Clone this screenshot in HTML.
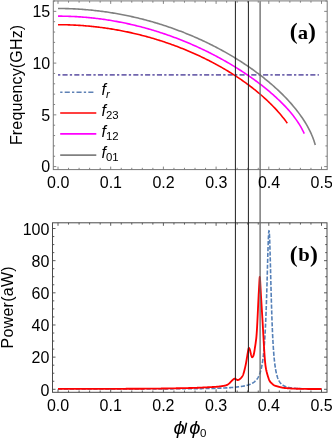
<!DOCTYPE html>
<html><head><meta charset="utf-8"><title>plot</title>
<style>html,body{margin:0;padding:0;background:#fff;width:332px;height:439px;overflow:hidden}</style>
</head><body>
<svg width="332" height="439" viewBox="0 0 332 439" style="position:absolute;left:0;top:0;will-change:transform">
<path d="M58.00,74.9 H318.9" stroke="#7166ae" stroke-width="1.7" stroke-dasharray="2.3 2.2 5.1 2.2" fill="none"/>
<path d="M58.00,8.50 L59.29,8.50 L60.59,8.51 L61.88,8.52 L63.17,8.54 L64.46,8.56 L65.76,8.59 L67.05,8.62 L68.34,8.66 L69.64,8.70 L70.93,8.75 L72.22,8.80 L73.51,8.86 L74.81,8.92 L76.10,8.99 L77.39,9.06 L78.69,9.13 L79.98,9.22 L81.27,9.30 L82.56,9.39 L83.86,9.49 L85.15,9.59 L86.44,9.70 L87.74,9.81 L89.03,9.93 L90.32,10.05 L91.61,10.17 L92.91,10.31 L94.20,10.44 L95.49,10.58 L96.79,10.73 L98.08,10.88 L99.37,11.04 L100.66,11.20 L101.96,11.37 L103.25,11.54 L104.54,11.71 L105.84,11.90 L107.13,12.08 L108.42,12.27 L109.71,12.47 L111.01,12.67 L112.30,12.88 L113.59,13.09 L114.89,13.31 L116.18,13.53 L117.47,13.76 L118.76,13.99 L120.06,14.23 L121.35,14.47 L122.64,14.72 L123.94,14.97 L125.23,15.23 L126.52,15.49 L127.82,15.76 L129.11,16.03 L130.40,16.31 L131.69,16.60 L132.99,16.88 L134.28,17.18 L135.57,17.48 L136.87,17.78 L138.16,18.09 L139.45,18.41 L140.74,18.73 L142.04,19.06 L143.33,19.39 L144.62,19.72 L145.92,20.06 L147.21,20.41 L148.50,20.76 L149.79,21.12 L151.09,21.49 L152.38,21.85 L153.67,22.23 L154.97,22.61 L156.26,22.99 L157.55,23.38 L158.84,23.78 L160.14,24.18 L161.43,24.59 L162.72,25.00 L164.02,25.42 L165.31,25.84 L166.60,26.27 L167.89,26.71 L169.19,27.15 L170.48,27.59 L171.77,28.04 L173.07,28.50 L174.36,28.97 L175.65,29.44 L176.94,29.91 L178.24,30.39 L179.53,30.88 L180.82,31.37 L182.12,31.87 L183.41,32.37 L184.70,32.88 L185.99,33.40 L187.29,33.92 L188.58,34.45 L189.87,34.99 L191.17,35.53 L192.46,36.08 L193.75,36.63 L195.04,37.19 L196.34,37.75 L197.63,38.33 L198.92,38.91 L200.22,39.49 L201.51,40.08 L202.80,40.68 L204.09,41.29 L205.39,41.90 L206.68,42.52 L207.97,43.14 L209.27,43.78 L210.56,44.41 L211.85,45.06 L213.14,45.71 L214.44,46.37 L215.73,47.04 L217.02,47.71 L218.32,48.40 L219.61,49.09 L220.90,49.78 L222.19,50.49 L223.49,51.20 L224.78,51.92 L226.07,52.65 L227.37,53.38 L228.66,54.12 L229.95,54.88 L231.24,55.64 L232.54,56.40 L233.83,57.18 L235.12,57.96 L236.42,58.76 L237.71,59.56 L239.00,60.37 L240.29,61.19 L241.59,62.02 L242.88,62.86 L244.17,63.71 L245.47,64.57 L246.76,65.44 L248.05,66.32 L249.34,67.21 L250.64,68.10 L251.93,69.01 L253.22,69.94 L254.52,70.87 L255.81,71.81 L257.10,72.77 L258.40,73.73 L259.69,74.71 L260.98,75.71 L262.27,76.71 L263.57,77.73 L264.86,78.76 L266.15,79.81 L267.45,80.87 L268.74,81.95 L270.03,83.04 L271.32,84.14 L272.62,85.27 L273.91,86.41 L275.20,87.56 L276.50,88.74 L277.79,89.94 L279.08,91.15 L280.37,92.39 L281.67,93.65 L282.96,94.93 L284.25,96.23 L285.55,97.56 L286.84,98.91 L288.13,100.30 L289.42,101.71 L290.72,103.15 L292.01,104.63 L293.30,106.15 L294.60,107.70 L295.89,109.29 L297.18,110.93 L298.47,112.62 L299.77,114.36 L301.06,116.17 L302.35,118.04 L303.65,119.99 L304.94,122.02 L306.23,124.16 L307.52,126.41 L308.82,128.81 L310.11,131.39 L311.40,134.20 L312.70,137.31 L313.99,140.84 L315.28,145.03" stroke="#808080" stroke-width="1.6" fill="none" stroke-linejoin="round"/>
<path d="M58.00,16.14 L59.24,16.14 L60.48,16.15 L61.71,16.16 L62.95,16.18 L64.19,16.20 L65.43,16.23 L66.66,16.26 L67.90,16.29 L69.14,16.33 L70.38,16.38 L71.61,16.43 L72.85,16.48 L74.09,16.54 L75.33,16.61 L76.56,16.67 L77.80,16.75 L79.04,16.83 L80.28,16.91 L81.51,17.00 L82.75,17.09 L83.99,17.19 L85.23,17.29 L86.46,17.40 L87.70,17.51 L88.94,17.62 L90.18,17.74 L91.41,17.87 L92.65,18.00 L93.89,18.14 L95.13,18.28 L96.36,18.42 L97.60,18.57 L98.84,18.72 L100.08,18.88 L101.31,19.05 L102.55,19.22 L103.79,19.39 L105.03,19.57 L106.26,19.75 L107.50,19.94 L108.74,20.13 L109.98,20.33 L111.21,20.53 L112.45,20.74 L113.69,20.95 L114.93,21.17 L116.16,21.39 L117.40,21.62 L118.64,21.85 L119.88,22.09 L121.11,22.33 L122.35,22.57 L123.59,22.82 L124.83,23.08 L126.06,23.34 L127.30,23.61 L128.54,23.88 L129.78,24.15 L131.01,24.43 L132.25,24.72 L133.49,25.01 L134.73,25.30 L135.96,25.60 L137.20,25.91 L138.44,26.22 L139.68,26.53 L140.91,26.85 L142.15,27.18 L143.39,27.50 L144.63,27.84 L145.86,28.18 L147.10,28.52 L148.34,28.87 L149.58,29.23 L150.81,29.59 L152.05,29.95 L153.29,30.32 L154.53,30.70 L155.76,31.08 L157.00,31.46 L158.24,31.85 L159.48,32.25 L160.71,32.65 L161.95,33.05 L163.19,33.46 L164.43,33.88 L165.66,34.30 L166.90,34.73 L168.14,35.16 L169.38,35.59 L170.61,36.04 L171.85,36.48 L173.09,36.94 L174.33,37.39 L175.56,37.86 L176.80,38.33 L178.04,38.80 L179.28,39.28 L180.51,39.76 L181.75,40.25 L182.99,40.75 L184.23,41.25 L185.46,41.76 L186.70,42.27 L187.94,42.78 L189.18,43.31 L190.41,43.84 L191.65,44.37 L192.89,44.91 L194.13,45.45 L195.37,46.01 L196.60,46.56 L197.84,47.12 L199.08,47.69 L200.32,48.27 L201.55,48.85 L202.79,49.43 L204.03,50.02 L205.27,50.62 L206.50,51.23 L207.74,51.84 L208.98,52.45 L210.22,53.07 L211.45,53.70 L212.69,54.34 L213.93,54.98 L215.17,55.62 L216.40,56.28 L217.64,56.94 L218.88,57.60 L220.12,58.28 L221.35,58.95 L222.59,59.64 L223.83,60.33 L225.07,61.03 L226.30,61.74 L227.54,62.45 L228.78,63.17 L230.02,63.90 L231.25,64.64 L232.49,65.38 L233.73,66.13 L234.97,66.88 L236.20,67.65 L237.44,68.42 L238.68,69.20 L239.92,69.99 L241.15,70.78 L242.39,71.59 L243.63,72.40 L244.87,73.22 L246.10,74.05 L247.34,74.89 L248.58,75.73 L249.82,76.59 L251.05,77.46 L252.29,78.33 L253.53,79.21 L254.77,80.11 L256.00,81.01 L257.24,81.93 L258.48,82.86 L259.72,83.79 L260.95,84.74 L262.19,85.70 L263.43,86.67 L264.67,87.66 L265.90,88.65 L267.14,89.66 L268.38,90.69 L269.62,91.73 L270.85,92.78 L272.09,93.85 L273.33,94.93 L274.57,96.04 L275.80,97.16 L277.04,98.30 L278.28,99.46 L279.52,100.64 L280.75,101.84 L281.99,103.07 L283.23,104.32 L284.47,105.60 L285.70,106.91 L286.94,108.25 L288.18,109.63 L289.42,111.04 L290.65,112.50 L291.89,114.01 L293.13,115.56 L294.37,117.18 L295.60,118.86 L296.84,120.61 L298.08,122.45 L299.32,124.39 L300.55,126.45 L301.79,128.65 L303.03,131.01 L304.27,133.58" stroke="#ff00ff" stroke-width="1.6" fill="none" stroke-linejoin="round"/>
<path d="M58.00,24.69 L59.15,24.69 L60.30,24.70 L61.46,24.71 L62.61,24.72 L63.76,24.74 L64.91,24.76 L66.07,24.79 L67.22,24.82 L68.37,24.85 L69.52,24.89 L70.67,24.93 L71.83,24.98 L72.98,25.03 L74.13,25.08 L75.28,25.14 L76.44,25.20 L77.59,25.27 L78.74,25.34 L79.89,25.41 L81.04,25.49 L82.20,25.57 L83.35,25.65 L84.50,25.74 L85.65,25.84 L86.81,25.93 L87.96,26.04 L89.11,26.14 L90.26,26.25 L91.42,26.36 L92.57,26.48 L93.72,26.60 L94.87,26.73 L96.02,26.86 L97.18,26.99 L98.33,27.13 L99.48,27.27 L100.63,27.42 L101.79,27.57 L102.94,27.72 L104.09,27.88 L105.24,28.04 L106.39,28.21 L107.55,28.38 L108.70,28.55 L109.85,28.73 L111.00,28.91 L112.16,29.10 L113.31,29.29 L114.46,29.48 L115.61,29.68 L116.76,29.89 L117.92,30.09 L119.07,30.30 L120.22,30.52 L121.37,30.74 L122.53,30.96 L123.68,31.19 L124.83,31.42 L125.98,31.66 L127.13,31.90 L128.29,32.14 L129.44,32.39 L130.59,32.64 L131.74,32.90 L132.90,33.16 L134.05,33.43 L135.20,33.70 L136.35,33.97 L137.51,34.25 L138.66,34.53 L139.81,34.82 L140.96,35.11 L142.11,35.41 L143.27,35.71 L144.42,36.01 L145.57,36.32 L146.72,36.63 L147.88,36.95 L149.03,37.27 L150.18,37.60 L151.33,37.93 L152.48,38.26 L153.64,38.60 L154.79,38.95 L155.94,39.30 L157.09,39.65 L158.25,40.01 L159.40,40.37 L160.55,40.74 L161.70,41.11 L162.85,41.48 L164.01,41.86 L165.16,42.25 L166.31,42.64 L167.46,43.03 L168.62,43.43 L169.77,43.84 L170.92,44.24 L172.07,44.66 L173.22,45.08 L174.38,45.50 L175.53,45.93 L176.68,46.36 L177.83,46.80 L178.99,47.24 L180.14,47.69 L181.29,48.14 L182.44,48.60 L183.60,49.06 L184.75,49.53 L185.90,50.00 L187.05,50.48 L188.20,50.96 L189.36,51.45 L190.51,51.94 L191.66,52.44 L192.81,52.94 L193.97,53.45 L195.12,53.97 L196.27,54.49 L197.42,55.01 L198.57,55.54 L199.73,56.08 L200.88,56.62 L202.03,57.17 L203.18,57.73 L204.34,58.29 L205.49,58.85 L206.64,59.42 L207.79,60.00 L208.94,60.58 L210.10,61.17 L211.25,61.77 L212.40,62.37 L213.55,62.98 L214.71,63.59 L215.86,64.21 L217.01,64.84 L218.16,65.48 L219.31,66.12 L220.47,66.76 L221.62,67.42 L222.77,68.08 L223.92,68.75 L225.08,69.42 L226.23,70.11 L227.38,70.80 L228.53,71.49 L229.69,72.20 L230.84,72.91 L231.99,73.63 L233.14,74.36 L234.29,75.10 L235.45,75.84 L236.60,76.60 L237.75,77.36 L238.90,78.13 L240.06,78.91 L241.21,79.70 L242.36,80.50 L243.51,81.31 L244.66,82.12 L245.82,82.95 L246.97,83.79 L248.12,84.64 L249.27,85.50 L250.43,86.37 L251.58,87.25 L252.73,88.14 L253.88,89.05 L255.03,89.96 L256.19,90.89 L257.34,91.84 L258.49,92.79 L259.64,93.76 L260.80,94.75 L261.95,95.75 L263.10,96.76 L264.25,97.79 L265.40,98.84 L266.56,99.90 L267.71,100.98 L268.86,102.09 L270.01,103.21 L271.17,104.35 L272.32,105.51 L273.47,106.69 L274.62,107.90 L275.78,109.14 L276.93,110.39 L278.08,111.68 L279.23,113.00 L280.38,114.34 L281.54,115.72 L282.69,117.14 L283.84,118.59 L284.99,120.08 L286.15,121.62 L287.30,123.20" stroke="#ff0000" stroke-width="1.6" fill="none" stroke-linejoin="round"/>
<path d="M58.00,389.01 L58.22,389.01 L58.44,389.01 L58.66,389.01 L58.88,389.01 L59.10,389.01 L59.32,389.01 L59.54,389.01 L59.76,389.01 L59.98,389.01 L60.20,389.01 L60.42,389.01 L60.64,389.01 L60.86,389.01 L61.08,389.01 L61.30,389.01 L61.52,389.01 L61.74,389.01 L61.96,389.01 L62.18,389.01 L62.40,389.01 L62.62,389.01 L62.83,389.01 L63.05,389.01 L63.27,389.01 L63.49,389.01 L63.71,389.01 L63.93,389.01 L64.15,389.01 L64.37,389.01 L64.59,389.01 L64.81,389.01 L65.03,389.01 L65.25,389.01 L65.47,389.01 L65.69,389.01 L65.91,389.01 L66.13,389.01 L66.35,389.01 L66.57,389.01 L66.79,389.01 L67.01,389.01 L67.23,389.01 L67.45,389.01 L67.67,389.01 L67.89,389.01 L68.11,389.01 L68.33,389.00 L68.55,389.00 L68.77,389.00 L68.99,389.00 L69.21,389.00 L69.43,389.00 L69.65,389.00 L69.87,389.00 L70.09,389.00 L70.31,389.00 L70.53,389.00 L70.75,389.00 L70.97,389.00 L71.19,389.00 L71.41,389.00 L71.63,389.00 L71.85,389.00 L72.07,389.00 L72.28,389.00 L72.50,389.00 L72.72,389.00 L72.94,389.00 L73.16,389.00 L73.38,389.00 L73.60,389.00 L73.82,389.00 L74.04,389.00 L74.26,389.00 L74.48,389.00 L74.70,389.00 L74.92,389.00 L75.14,389.00 L75.36,389.00 L75.58,389.00 L75.80,389.00 L76.02,389.00 L76.24,389.00 L76.46,389.00 L76.68,389.00 L76.90,389.00 L77.12,389.00 L77.34,389.00 L77.56,389.00 L77.78,389.00 L78.00,389.00 L78.22,389.00 L78.44,389.00 L78.66,389.00 L78.88,389.00 L79.10,389.00 L79.32,389.00 L79.54,389.00 L79.76,389.00 L79.98,389.00 L80.20,389.00 L80.42,389.00 L80.64,389.00 L80.86,389.00 L81.08,389.00 L81.30,389.00 L81.52,389.00 L81.73,389.00 L81.95,389.00 L82.17,389.00 L82.39,389.00 L82.61,389.00 L82.83,389.00 L83.05,389.00 L83.27,389.00 L83.49,389.00 L83.71,389.00 L83.93,389.00 L84.15,389.00 L84.37,389.00 L84.59,389.00 L84.81,388.99 L85.03,388.99 L85.25,388.99 L85.47,388.99 L85.69,388.99 L85.91,388.99 L86.13,388.99 L86.35,388.99 L86.57,388.99 L86.79,388.99 L87.01,388.99 L87.23,388.99 L87.45,388.99 L87.67,388.99 L87.89,388.99 L88.11,388.99 L88.33,388.99 L88.55,388.99 L88.77,388.99 L88.99,388.99 L89.21,388.99 L89.43,388.99 L89.65,388.99 L89.87,388.99 L90.09,388.99 L90.31,388.99 L90.53,388.99 L90.75,388.99 L90.96,388.99 L91.18,388.99 L91.40,388.99 L91.62,388.99 L91.84,388.99 L92.06,388.99 L92.28,388.99 L92.50,388.99 L92.72,388.99 L92.94,388.99 L93.16,388.99 L93.38,388.99 L93.60,388.99 L93.82,388.99 L94.04,388.99 L94.26,388.99 L94.48,388.99 L94.70,388.99 L94.92,388.99 L95.14,388.99 L95.36,388.99 L95.58,388.99 L95.80,388.99 L96.02,388.99 L96.24,388.99 L96.46,388.99 L96.68,388.99 L96.90,388.99 L97.12,388.99 L97.34,388.99 L97.56,388.99 L97.78,388.98 L98.00,388.98 L98.22,388.98 L98.44,388.98 L98.66,388.98 L98.88,388.98 L99.10,388.98 L99.32,388.98 L99.54,388.98 L99.76,388.98 L99.98,388.98 L100.20,388.98 L100.41,388.98 L100.63,388.98 L100.85,388.98 L101.07,388.98 L101.29,388.98 L101.51,388.98 L101.73,388.98 L101.95,388.98 L102.17,388.98 L102.39,388.98 L102.61,388.98 L102.83,388.98 L103.05,388.98 L103.27,388.98 L103.49,388.98 L103.71,388.98 L103.93,388.98 L104.15,388.98 L104.37,388.98 L104.59,388.98 L104.81,388.98 L105.03,388.98 L105.25,388.98 L105.47,388.98 L105.69,388.98 L105.91,388.98 L106.13,388.98 L106.35,388.98 L106.57,388.98 L106.79,388.98 L107.01,388.98 L107.23,388.98 L107.45,388.98 L107.67,388.98 L107.89,388.98 L108.11,388.98 L108.33,388.97 L108.55,388.97 L108.77,388.97 L108.99,388.97 L109.21,388.97 L109.43,388.97 L109.65,388.97 L109.86,388.97 L110.08,388.97 L110.30,388.97 L110.52,388.97 L110.74,388.97 L110.96,388.97 L111.18,388.97 L111.40,388.97 L111.62,388.97 L111.84,388.97 L112.06,388.97 L112.28,388.97 L112.50,388.97 L112.72,388.97 L112.94,388.97 L113.16,388.97 L113.38,388.97 L113.60,388.97 L113.82,388.97 L114.04,388.97 L114.26,388.97 L114.48,388.97 L114.70,388.97 L114.92,388.97 L115.14,388.97 L115.36,388.97 L115.58,388.97 L115.80,388.97 L116.02,388.97 L116.24,388.97 L116.46,388.97 L116.68,388.97 L116.90,388.97 L117.12,388.96 L117.34,388.96 L117.56,388.96 L117.78,388.96 L118.00,388.96 L118.22,388.96 L118.44,388.96 L118.66,388.96 L118.88,388.96 L119.10,388.96 L119.31,388.96 L119.53,388.96 L119.75,388.96 L119.97,388.96 L120.19,388.96 L120.41,388.96 L120.63,388.96 L120.85,388.96 L121.07,388.96 L121.29,388.96 L121.51,388.96 L121.73,388.96 L121.95,388.96 L122.17,388.96 L122.39,388.96 L122.61,388.96 L122.83,388.96 L123.05,388.96 L123.27,388.96 L123.49,388.96 L123.71,388.96 L123.93,388.96 L124.15,388.96 L124.37,388.96 L124.59,388.95 L124.81,388.95 L125.03,388.95 L125.25,388.95 L125.47,388.95 L125.69,388.95 L125.91,388.95 L126.13,388.95 L126.35,388.95 L126.57,388.95 L126.79,388.95 L127.01,388.95 L127.23,388.95 L127.45,388.95 L127.67,388.95 L127.89,388.95 L128.11,388.95 L128.33,388.95 L128.55,388.95 L128.76,388.95 L128.98,388.95 L129.20,388.95 L129.42,388.95 L129.64,388.95 L129.86,388.95 L130.08,388.95 L130.30,388.95 L130.52,388.95 L130.74,388.95 L130.96,388.95 L131.18,388.94 L131.40,388.94 L131.62,388.94 L131.84,388.94 L132.06,388.94 L132.28,388.94 L132.50,388.94 L132.72,388.94 L132.94,388.94 L133.16,388.94 L133.38,388.94 L133.60,388.94 L133.82,388.94 L134.04,388.94 L134.26,388.94 L134.48,388.94 L134.70,388.94 L134.92,388.94 L135.14,388.94 L135.36,388.94 L135.58,388.94 L135.80,388.94 L136.02,388.94 L136.24,388.94 L136.46,388.94 L136.68,388.94 L136.90,388.93 L137.12,388.93 L137.34,388.93 L137.56,388.93 L137.78,388.93 L137.99,388.93 L138.21,388.93 L138.43,388.93 L138.65,388.93 L138.87,388.93 L139.09,388.93 L139.31,388.93 L139.53,388.93 L139.75,388.93 L139.97,388.93 L140.19,388.93 L140.41,388.93 L140.63,388.93 L140.85,388.93 L141.07,388.93 L141.29,388.93 L141.51,388.93 L141.73,388.93 L141.95,388.92 L142.17,388.92 L142.39,388.92 L142.61,388.92 L142.83,388.92 L143.05,388.92 L143.27,388.92 L143.49,388.92 L143.71,388.92 L143.93,388.92 L144.15,388.92 L144.37,388.92 L144.59,388.92 L144.81,388.92 L145.03,388.92 L145.25,388.92 L145.47,388.92 L145.69,388.92 L145.91,388.92 L146.13,388.92 L146.35,388.91 L146.57,388.91 L146.79,388.91 L147.01,388.91 L147.23,388.91 L147.44,388.91 L147.66,388.91 L147.88,388.91 L148.10,388.91 L148.32,388.91 L148.54,388.91 L148.76,388.91 L148.98,388.91 L149.20,388.91 L149.42,388.91 L149.64,388.91 L149.86,388.91 L150.08,388.91 L150.30,388.91 L150.52,388.90 L150.74,388.90 L150.96,388.90 L151.18,388.90 L151.40,388.90 L151.62,388.90 L151.84,388.90 L152.06,388.90 L152.28,388.90 L152.50,388.90 L152.72,388.90 L152.94,388.90 L153.16,388.90 L153.38,388.90 L153.60,388.90 L153.82,388.90 L154.04,388.89 L154.26,388.89 L154.48,388.89 L154.70,388.89 L154.92,388.89 L155.14,388.89 L155.36,388.89 L155.58,388.89 L155.80,388.89 L156.02,388.89 L156.24,388.89 L156.46,388.89 L156.68,388.89 L156.89,388.89 L157.11,388.89 L157.33,388.89 L157.55,388.88 L157.77,388.88 L157.99,388.88 L158.21,388.88 L158.43,388.88 L158.65,388.88 L158.87,388.88 L159.09,388.88 L159.31,388.88 L159.53,388.88 L159.75,388.88 L159.97,388.88 L160.19,388.88 L160.41,388.88 L160.63,388.87 L160.85,388.87 L161.07,388.87 L161.29,388.87 L161.51,388.87 L161.73,388.87 L161.95,388.87 L162.17,388.87 L162.39,388.87 L162.61,388.87 L162.83,388.87 L163.05,388.87 L163.27,388.87 L163.49,388.86 L163.71,388.86 L163.93,388.86 L164.15,388.86 L164.37,388.86 L164.59,388.86 L164.81,388.86 L165.03,388.86 L165.25,388.86 L165.47,388.86 L165.69,388.86 L165.91,388.86 L166.13,388.85 L166.34,388.85 L166.56,388.85 L166.78,388.85 L167.00,388.85 L167.22,388.85 L167.44,388.85 L167.66,388.85 L167.88,388.85 L168.10,388.85 L168.32,388.85 L168.54,388.84 L168.76,388.84 L168.98,388.84 L169.20,388.84 L169.42,388.84 L169.64,388.84 L169.86,388.84 L170.08,388.84 L170.30,388.84 L170.52,388.84 L170.74,388.83 L170.96,388.83 L171.18,388.83 L171.40,388.83 L171.62,388.83 L171.84,388.83 L172.06,388.83 L172.28,388.83 L172.50,388.83 L172.72,388.83 L172.94,388.82 L173.16,388.82 L173.38,388.82 L173.60,388.82 L173.82,388.82 L174.04,388.82 L174.26,388.82 L174.48,388.82 L174.70,388.82 L174.92,388.81 L175.14,388.81 L175.36,388.81 L175.58,388.81 L175.79,388.81 L176.01,388.81 L176.23,388.81 L176.45,388.81 L176.67,388.80 L176.89,388.80 L177.11,388.80 L177.33,388.80 L177.55,388.80 L177.77,388.80 L177.99,388.80 L178.21,388.80 L178.43,388.79 L178.65,388.79 L178.87,388.79 L179.09,388.79 L179.31,388.79 L179.53,388.79 L179.75,388.79 L179.97,388.79 L180.19,388.78 L180.41,388.78 L180.63,388.78 L180.85,388.78 L181.07,388.78 L181.29,388.78 L181.51,388.78 L181.73,388.77 L181.95,388.77 L182.17,388.77 L182.39,388.77 L182.61,388.77 L182.83,388.77 L183.05,388.77 L183.27,388.76 L183.49,388.76 L183.71,388.76 L183.93,388.76 L184.15,388.76 L184.37,388.76 L184.59,388.76 L184.81,388.75 L185.03,388.75 L185.24,388.75 L185.46,388.75 L185.68,388.75 L185.90,388.75 L186.12,388.74 L186.34,388.74 L186.56,388.74 L186.78,388.74 L187.00,388.74 L187.22,388.74 L187.44,388.73 L187.66,388.73 L187.88,388.73 L188.10,388.73 L188.32,388.73 L188.54,388.72 L188.76,388.72 L188.98,388.72 L189.20,388.72 L189.42,388.72 L189.64,388.72 L189.86,388.71 L190.08,388.71 L190.30,388.71 L190.52,388.71 L190.74,388.71 L190.96,388.70 L191.18,388.70 L191.40,388.70 L191.62,388.70 L191.84,388.70 L192.06,388.69 L192.28,388.69 L192.50,388.69 L192.72,388.69 L192.94,388.68 L193.16,388.68 L193.38,388.68 L193.60,388.68 L193.82,388.68 L194.04,388.67 L194.26,388.67 L194.47,388.67 L194.69,388.67 L194.91,388.66 L195.13,388.66 L195.35,388.66 L195.57,388.66 L195.79,388.66 L196.01,388.65 L196.23,388.65 L196.45,388.65 L196.67,388.65 L196.89,388.64 L197.11,388.64 L197.33,388.64 L197.55,388.64 L197.77,388.63 L197.99,388.63 L198.21,388.63 L198.43,388.62 L198.65,388.62 L198.87,388.62 L199.09,388.62 L199.31,388.61 L199.53,388.61 L199.75,388.61 L199.97,388.61 L200.19,388.60 L200.41,388.60 L200.63,388.60 L200.85,388.59 L201.07,388.59 L201.29,388.59 L201.51,388.58 L201.73,388.58 L201.95,388.58 L202.17,388.57 L202.39,388.57 L202.61,388.57 L202.83,388.57 L203.05,388.56 L203.27,388.56 L203.49,388.56 L203.71,388.55 L203.92,388.55 L204.14,388.54 L204.36,388.54 L204.58,388.54 L204.80,388.53 L205.02,388.53 L205.24,388.53 L205.46,388.52 L205.68,388.52 L205.90,388.52 L206.12,388.51 L206.34,388.51 L206.56,388.50 L206.78,388.50 L207.00,388.50 L207.22,388.49 L207.44,388.49 L207.66,388.48 L207.88,388.48 L208.10,388.48 L208.32,388.47 L208.54,388.47 L208.76,388.46 L208.98,388.46 L209.20,388.45 L209.42,388.45 L209.64,388.45 L209.86,388.44 L210.08,388.44 L210.30,388.43 L210.52,388.43 L210.74,388.42 L210.96,388.42 L211.18,388.41 L211.40,388.41 L211.62,388.40 L211.84,388.40 L212.06,388.39 L212.28,388.39 L212.50,388.38 L212.72,388.38 L212.94,388.37 L213.16,388.37 L213.37,388.36 L213.59,388.36 L213.81,388.35 L214.03,388.34 L214.25,388.34 L214.47,388.33 L214.69,388.33 L214.91,388.32 L215.13,388.32 L215.35,388.31 L215.57,388.30 L215.79,388.30 L216.01,388.29 L216.23,388.28 L216.45,388.28 L216.67,388.27 L216.89,388.26 L217.11,388.26 L217.33,388.25 L217.55,388.24 L217.77,388.24 L217.99,388.23 L218.21,388.22 L218.43,388.22 L218.65,388.21 L218.87,388.20 L219.09,388.19 L219.31,388.19 L219.53,388.18 L219.75,388.17 L219.97,388.16 L220.19,388.15 L220.41,388.15 L220.63,388.14 L220.85,388.13 L221.07,388.12 L221.29,388.11 L221.51,388.10 L221.73,388.09 L221.95,388.09 L222.17,388.08 L222.39,388.07 L222.61,388.06 L222.82,388.05 L223.04,388.04 L223.26,388.03 L223.48,388.02 L223.70,388.01 L223.92,388.00 L224.14,387.99 L224.36,387.98 L224.58,387.97 L224.80,387.96 L225.02,387.95 L225.24,387.93 L225.46,387.92 L225.68,387.91 L225.90,387.90 L226.12,387.89 L226.34,387.88 L226.56,387.86 L226.78,387.85 L227.00,387.84 L227.22,387.83 L227.44,387.81 L227.66,387.80 L227.88,387.79 L228.10,387.77 L228.32,387.76 L228.54,387.75 L228.76,387.73 L228.98,387.72 L229.20,387.70 L229.42,387.69 L229.64,387.67 L229.86,387.66 L230.08,387.64 L230.30,387.62 L230.52,387.61 L230.74,387.59 L230.96,387.57 L231.18,387.56 L231.40,387.54 L231.62,387.52 L231.84,387.50 L232.06,387.49 L232.27,387.47 L232.49,387.45 L232.71,387.43 L232.93,387.41 L233.15,387.39 L233.37,387.37 L233.59,387.35 L233.81,387.33 L234.03,387.31 L234.25,387.28 L234.47,387.26 L234.69,387.24 L234.91,387.21 L235.13,387.19 L235.35,387.17 L235.57,387.14 L235.79,387.12 L236.01,387.09 L236.23,387.06 L236.45,387.04 L236.67,387.01 L236.89,386.98 L237.11,386.96 L237.33,386.93 L237.55,386.90 L237.77,386.88 L237.99,386.86 L238.21,386.84 L238.43,386.81 L238.65,386.79 L238.87,386.76 L239.09,386.74 L239.31,386.71 L239.53,386.69 L239.75,386.66 L239.97,386.63 L240.19,386.61 L240.41,386.58 L240.63,386.55 L240.85,386.52 L241.07,386.49 L241.29,386.46 L241.51,386.43 L241.72,386.39 L241.94,386.36 L242.16,386.33 L242.38,386.29 L242.60,386.26 L242.82,386.22 L243.04,386.18 L243.26,386.15 L243.48,386.11 L243.70,386.07 L243.92,386.03 L244.14,385.99 L244.36,385.94 L244.58,385.90 L244.80,385.86 L245.02,385.81 L245.24,385.76 L245.46,385.72 L245.68,385.67 L245.90,385.62 L246.12,385.56 L246.34,385.51 L246.56,385.46 L246.78,385.40 L247.00,385.34 L247.22,385.28 L247.44,385.22 L247.66,385.16 L247.88,385.10 L248.10,385.03 L248.32,384.96 L248.54,384.89 L248.76,384.82 L248.98,384.74 L249.20,384.67 L249.42,384.59 L249.64,384.51 L249.86,384.42 L250.08,384.34 L250.30,384.25 L250.52,384.15 L250.74,384.06 L250.95,383.96 L251.17,383.86 L251.39,383.75 L251.61,383.64 L251.83,383.53 L252.05,383.41 L252.27,383.29 L252.49,383.16 L252.71,383.03 L252.93,382.90 L253.15,382.76 L253.37,382.61 L253.59,382.46 L253.81,382.30 L254.03,382.14 L254.25,381.97 L254.47,381.79 L254.69,381.61 L254.91,381.41 L255.13,381.21 L255.35,381.00 L255.57,380.79 L255.79,380.56 L256.01,380.32 L256.23,380.07 L256.45,379.80 L256.67,379.53 L256.89,379.24 L257.11,378.94 L257.33,378.62 L257.55,378.29 L257.77,377.94 L257.99,377.57 L258.21,377.18 L258.43,376.76 L258.65,376.33 L258.87,375.87 L259.09,375.38 L259.31,374.87 L259.53,374.32 L259.75,373.75 L259.97,373.13 L260.19,372.48 L260.40,371.78 L260.62,371.03 L260.84,370.24 L261.06,369.39 L261.28,368.48 L261.50,367.51 L261.72,366.46 L261.94,365.34 L262.16,364.13 L262.38,362.82 L262.60,361.41 L262.82,359.89 L263.04,358.23 L263.26,356.44 L263.48,354.49 L263.70,352.38 L263.92,350.07 L264.14,347.55 L264.36,344.80 L264.58,341.79 L264.80,338.49 L265.02,334.89 L265.24,330.94 L265.46,326.62 L265.68,321.89 L265.90,316.72 L266.12,311.10 L266.34,305.01 L266.56,298.44 L266.78,291.42 L267.00,284.00 L267.22,276.26 L267.44,268.35 L267.66,260.45 L267.88,252.84 L268.10,245.82 L268.32,239.76 L268.54,235.01 L268.76,231.90 L268.98,230.68 L269.20,231.47 L269.42,234.25 L269.64,238.83 L269.85,244.95 L270.07,252.23 L270.29,260.30 L270.51,268.79 L270.73,277.39 L270.95,285.85 L271.17,293.99 L271.39,301.70 L271.61,308.89 L271.83,315.54 L272.05,321.64 L272.27,327.21 L272.49,332.28 L272.71,336.88 L272.93,341.05 L273.15,344.83 L273.37,348.25 L273.59,351.35 L273.81,354.16 L274.03,356.70 L274.25,359.02 L274.47,361.12 L274.69,363.04 L274.91,364.79 L275.13,366.39 L275.35,367.86 L275.57,369.20 L275.79,370.43 L276.01,371.56 L276.23,372.61 L276.45,373.57 L276.67,374.46 L276.89,375.28 L277.11,376.04 L277.33,376.75 L277.55,377.41 L277.77,378.02 L277.99,378.59 L278.21,379.12 L278.43,379.62 L278.65,380.08 L278.87,380.52 L279.09,380.92 L279.30,381.31 L279.52,381.66 L279.74,382.00 L279.96,382.32 L280.18,382.62 L280.40,382.90 L280.62,383.17 L280.84,383.42 L281.06,383.65 L281.28,383.88 L281.50,384.09 L281.72,384.29 L281.94,384.48 L282.16,384.66 L282.38,384.84 L282.60,385.00 L282.82,385.15 L283.04,385.30 L283.26,385.44 L283.48,385.58 L283.70,385.71 L283.92,385.83 L284.14,385.94 L284.36,386.05 L284.58,386.16 L284.80,386.26 L285.02,386.36 L285.24,386.45 L285.46,386.54 L285.68,386.63 L285.90,386.71 L286.12,386.79 L286.34,386.86 L286.56,386.93 L286.78,387.00 L287.00,387.07 L287.22,387.13 L287.44,387.19 L287.66,387.25 L287.88,387.31 L288.10,387.36 L288.32,387.42 L288.54,387.47 L288.75,387.52 L288.97,387.56 L289.19,387.61 L289.41,387.65 L289.63,387.69 L289.85,387.73 L290.07,387.77 L290.29,387.81 L290.51,387.85 L290.73,387.88 L290.95,387.92 L291.17,387.95 L291.39,387.98 L291.61,388.01 L291.83,388.04 L292.05,388.07 L292.27,388.10 L292.49,388.12 L292.71,388.15 L292.93,388.17 L293.15,388.20 L293.37,388.22 L293.59,388.25 L293.81,388.27 L294.03,388.29 L294.25,388.31 L294.47,388.33 L294.69,388.35 L294.91,388.37 L295.13,388.39 L295.35,388.41 L295.57,388.42 L295.79,388.44 L296.01,388.46 L296.23,388.47 L296.45,388.49 L296.67,388.50 L296.89,388.52 L297.11,388.53 L297.33,388.54 L297.55,388.56 L297.77,388.57 L297.98,388.58 L298.20,388.58 L298.42,388.59 L298.64,388.60 L298.86,388.61 L299.08,388.61 L299.30,388.62 L299.52,388.62 L299.74,388.63 L299.96,388.64 L300.18,388.64 L300.40,388.65 L300.62,388.65 L300.84,388.66 L301.06,388.67 L301.28,388.67 L301.50,388.68 L301.72,388.68 L301.94,388.69 L302.16,388.69 L302.38,388.70 L302.60,388.70 L302.82,388.71 L303.04,388.71 L303.26,388.71 L303.48,388.72 L303.70,388.72 L303.92,388.73 L304.14,388.73 L304.36,388.74 L304.58,388.74 L304.80,388.74 L305.02,388.75 L305.24,388.75 L305.46,388.75 L305.68,388.76 L305.90,388.76 L306.12,388.77 L306.34,388.77 L306.56,388.77 L306.78,388.78 L307.00,388.78 L307.22,388.78 L307.43,388.78 L307.65,388.79 L307.87,388.79 L308.09,388.79 L308.31,388.80 L308.53,388.80 L308.75,388.80 L308.97,388.81 L309.19,388.81 L309.41,388.81 L309.63,388.81 L309.85,388.82 L310.07,388.82 L310.29,388.82 L310.51,388.82 L310.73,388.83 L310.95,388.83 L311.17,388.83 L311.39,388.83 L311.61,388.84 L311.83,388.84 L312.05,388.84 L312.27,388.84 L312.49,388.84 L312.71,388.85 L312.93,388.85 L313.15,388.85 L313.37,388.85 L313.59,388.86 L313.81,388.86 L314.03,388.86 L314.25,388.86 L314.47,388.86 L314.69,388.86 L314.91,388.87 L315.13,388.87 L315.35,388.87 L315.57,388.87 L315.79,388.87 L316.01,388.88 L316.23,388.88 L316.45,388.88 L316.67,388.88 L316.88,388.88 L317.10,388.88 L317.32,388.89 L317.54,388.89 L317.76,388.89 L317.98,388.89 L318.20,388.89 L318.42,388.89 L318.64,388.89 L318.86,388.90 L319.08,388.90 L319.30,388.90 L319.52,388.90 L319.74,388.90 L319.96,388.90 L320.18,388.90 L320.40,388.91 L320.62,388.91 L320.84,388.91 L321.06,388.91 L321.28,388.91 L321.50,388.91" stroke="#5580b8" stroke-width="1.6" stroke-dasharray="4.2 1.7" fill="none" stroke-linejoin="round"/>
<path d="M58.00,388.82 L58.22,388.82 L58.44,388.82 L58.66,388.82 L58.88,388.82 L59.10,388.82 L59.32,388.82 L59.54,388.83 L59.76,388.83 L59.98,388.83 L60.20,388.83 L60.42,388.83 L60.64,388.83 L60.86,388.83 L61.08,388.83 L61.30,388.83 L61.52,388.84 L61.74,388.84 L61.96,388.84 L62.18,388.84 L62.40,388.84 L62.62,388.84 L62.83,388.84 L63.05,388.84 L63.27,388.84 L63.49,388.84 L63.71,388.85 L63.93,388.85 L64.15,388.85 L64.37,388.85 L64.59,388.85 L64.81,388.85 L65.03,388.85 L65.25,388.85 L65.47,388.85 L65.69,388.85 L65.91,388.85 L66.13,388.85 L66.35,388.86 L66.57,388.86 L66.79,388.86 L67.01,388.86 L67.23,388.86 L67.45,388.86 L67.67,388.86 L67.89,388.86 L68.11,388.86 L68.33,388.86 L68.55,388.86 L68.77,388.86 L68.99,388.86 L69.21,388.87 L69.43,388.87 L69.65,388.87 L69.87,388.87 L70.09,388.87 L70.31,388.87 L70.53,388.87 L70.75,388.87 L70.97,388.87 L71.19,388.87 L71.41,388.87 L71.63,388.87 L71.85,388.87 L72.07,388.87 L72.28,388.87 L72.50,388.88 L72.72,388.88 L72.94,388.88 L73.16,388.88 L73.38,388.88 L73.60,388.88 L73.82,388.88 L74.04,388.88 L74.26,388.88 L74.48,388.88 L74.70,388.88 L74.92,388.88 L75.14,388.88 L75.36,388.88 L75.58,388.88 L75.80,388.88 L76.02,388.88 L76.24,388.88 L76.46,388.88 L76.68,388.88 L76.90,388.88 L77.12,388.89 L77.34,388.89 L77.56,388.89 L77.78,388.89 L78.00,388.89 L78.22,388.89 L78.44,388.89 L78.66,388.89 L78.88,388.89 L79.10,388.89 L79.32,388.89 L79.54,388.89 L79.76,388.89 L79.98,388.89 L80.20,388.89 L80.42,388.89 L80.64,388.89 L80.86,388.89 L81.08,388.89 L81.30,388.89 L81.52,388.89 L81.73,388.89 L81.95,388.89 L82.17,388.89 L82.39,388.89 L82.61,388.89 L82.83,388.89 L83.05,388.89 L83.27,388.89 L83.49,388.89 L83.71,388.89 L83.93,388.89 L84.15,388.89 L84.37,388.89 L84.59,388.89 L84.81,388.89 L85.03,388.89 L85.25,388.89 L85.47,388.89 L85.69,388.89 L85.91,388.89 L86.13,388.89 L86.35,388.89 L86.57,388.89 L86.79,388.89 L87.01,388.89 L87.23,388.89 L87.45,388.89 L87.67,388.89 L87.89,388.89 L88.11,388.89 L88.33,388.89 L88.55,388.89 L88.77,388.89 L88.99,388.89 L89.21,388.89 L89.43,388.89 L89.65,388.89 L89.87,388.89 L90.09,388.89 L90.31,388.89 L90.53,388.89 L90.75,388.89 L90.96,388.89 L91.18,388.89 L91.40,388.89 L91.62,388.89 L91.84,388.89 L92.06,388.89 L92.28,388.89 L92.50,388.89 L92.72,388.89 L92.94,388.89 L93.16,388.89 L93.38,388.89 L93.60,388.89 L93.82,388.89 L94.04,388.89 L94.26,388.89 L94.48,388.89 L94.70,388.89 L94.92,388.89 L95.14,388.89 L95.36,388.89 L95.58,388.89 L95.80,388.89 L96.02,388.89 L96.24,388.89 L96.46,388.89 L96.68,388.89 L96.90,388.89 L97.12,388.89 L97.34,388.89 L97.56,388.89 L97.78,388.89 L98.00,388.89 L98.22,388.89 L98.44,388.89 L98.66,388.88 L98.88,388.88 L99.10,388.88 L99.32,388.88 L99.54,388.88 L99.76,388.88 L99.98,388.88 L100.20,388.88 L100.41,388.88 L100.63,388.88 L100.85,388.88 L101.07,388.88 L101.29,388.88 L101.51,388.88 L101.73,388.88 L101.95,388.88 L102.17,388.88 L102.39,388.88 L102.61,388.88 L102.83,388.88 L103.05,388.88 L103.27,388.88 L103.49,388.88 L103.71,388.87 L103.93,388.87 L104.15,388.87 L104.37,388.87 L104.59,388.87 L104.81,388.87 L105.03,388.87 L105.25,388.87 L105.47,388.87 L105.69,388.87 L105.91,388.87 L106.13,388.87 L106.35,388.87 L106.57,388.87 L106.79,388.87 L107.01,388.87 L107.23,388.87 L107.45,388.87 L107.67,388.86 L107.89,388.86 L108.11,388.86 L108.33,388.86 L108.55,388.86 L108.77,388.86 L108.99,388.86 L109.21,388.86 L109.43,388.86 L109.65,388.86 L109.86,388.86 L110.08,388.86 L110.30,388.86 L110.52,388.86 L110.74,388.86 L110.96,388.85 L111.18,388.85 L111.40,388.85 L111.62,388.85 L111.84,388.85 L112.06,388.85 L112.28,388.85 L112.50,388.85 L112.72,388.85 L112.94,388.85 L113.16,388.85 L113.38,388.85 L113.60,388.85 L113.82,388.85 L114.04,388.84 L114.26,388.84 L114.48,388.84 L114.70,388.84 L114.92,388.84 L115.14,388.84 L115.36,388.84 L115.58,388.84 L115.80,388.84 L116.02,388.84 L116.24,388.84 L116.46,388.84 L116.68,388.83 L116.90,388.83 L117.12,388.83 L117.34,388.83 L117.56,388.83 L117.78,388.83 L118.00,388.83 L118.22,388.83 L118.44,388.83 L118.66,388.83 L118.88,388.83 L119.10,388.82 L119.31,388.82 L119.53,388.82 L119.75,388.82 L119.97,388.82 L120.19,388.82 L120.41,388.82 L120.63,388.82 L120.85,388.82 L121.07,388.82 L121.29,388.82 L121.51,388.81 L121.73,388.81 L121.95,388.81 L122.17,388.81 L122.39,388.81 L122.61,388.81 L122.83,388.81 L123.05,388.81 L123.27,388.81 L123.49,388.81 L123.71,388.80 L123.93,388.80 L124.15,388.80 L124.37,388.80 L124.59,388.80 L124.81,388.80 L125.03,388.80 L125.25,388.80 L125.47,388.80 L125.69,388.80 L125.91,388.79 L126.13,388.79 L126.35,388.79 L126.57,388.79 L126.79,388.79 L127.01,388.79 L127.23,388.79 L127.45,388.79 L127.67,388.79 L127.89,388.78 L128.11,388.78 L128.33,388.78 L128.55,388.78 L128.76,388.78 L128.98,388.78 L129.20,388.78 L129.42,388.78 L129.64,388.78 L129.86,388.77 L130.08,388.77 L130.30,388.77 L130.52,388.77 L130.74,388.77 L130.96,388.77 L131.18,388.77 L131.40,388.77 L131.62,388.77 L131.84,388.76 L132.06,388.76 L132.28,388.76 L132.50,388.76 L132.72,388.76 L132.94,388.76 L133.16,388.76 L133.38,388.76 L133.60,388.76 L133.82,388.75 L134.04,388.75 L134.26,388.75 L134.48,388.75 L134.70,388.75 L134.92,388.75 L135.14,388.75 L135.36,388.75 L135.58,388.74 L135.80,388.74 L136.02,388.74 L136.24,388.74 L136.46,388.74 L136.68,388.74 L136.90,388.74 L137.12,388.74 L137.34,388.73 L137.56,388.73 L137.78,388.73 L137.99,388.73 L138.21,388.73 L138.43,388.73 L138.65,388.73 L138.87,388.73 L139.09,388.72 L139.31,388.72 L139.53,388.72 L139.75,388.72 L139.97,388.72 L140.19,388.72 L140.41,388.72 L140.63,388.72 L140.85,388.71 L141.07,388.71 L141.29,388.71 L141.51,388.71 L141.73,388.71 L141.95,388.71 L142.17,388.71 L142.39,388.70 L142.61,388.70 L142.83,388.70 L143.05,388.70 L143.27,388.70 L143.49,388.70 L143.71,388.70 L143.93,388.70 L144.15,388.69 L144.37,388.69 L144.59,388.69 L144.81,388.69 L145.03,388.69 L145.25,388.69 L145.47,388.69 L145.69,388.68 L145.91,388.68 L146.13,388.68 L146.35,388.68 L146.57,388.68 L146.79,388.68 L147.01,388.68 L147.23,388.67 L147.44,388.67 L147.66,388.67 L147.88,388.67 L148.10,388.67 L148.32,388.67 L148.54,388.67 L148.76,388.66 L148.98,388.66 L149.20,388.66 L149.42,388.66 L149.64,388.66 L149.86,388.66 L150.08,388.66 L150.30,388.65 L150.52,388.65 L150.74,388.65 L150.96,388.65 L151.18,388.65 L151.40,388.65 L151.62,388.65 L151.84,388.64 L152.06,388.64 L152.28,388.64 L152.50,388.64 L152.72,388.64 L152.94,388.63 L153.16,388.63 L153.38,388.63 L153.60,388.63 L153.82,388.63 L154.04,388.62 L154.26,388.62 L154.48,388.62 L154.70,388.62 L154.92,388.62 L155.14,388.61 L155.36,388.61 L155.58,388.61 L155.80,388.61 L156.02,388.60 L156.24,388.60 L156.46,388.60 L156.68,388.60 L156.89,388.60 L157.11,388.59 L157.33,388.59 L157.55,388.59 L157.77,388.59 L157.99,388.58 L158.21,388.58 L158.43,388.58 L158.65,388.57 L158.87,388.57 L159.09,388.57 L159.31,388.57 L159.53,388.56 L159.75,388.56 L159.97,388.56 L160.19,388.56 L160.41,388.55 L160.63,388.55 L160.85,388.55 L161.07,388.54 L161.29,388.54 L161.51,388.54 L161.73,388.53 L161.95,388.53 L162.17,388.53 L162.39,388.53 L162.61,388.52 L162.83,388.52 L163.05,388.52 L163.27,388.51 L163.49,388.51 L163.71,388.51 L163.93,388.50 L164.15,388.50 L164.37,388.50 L164.59,388.49 L164.81,388.49 L165.03,388.49 L165.25,388.48 L165.47,388.48 L165.69,388.48 L165.91,388.47 L166.13,388.47 L166.34,388.47 L166.56,388.46 L166.78,388.46 L167.00,388.45 L167.22,388.45 L167.44,388.45 L167.66,388.44 L167.88,388.44 L168.10,388.44 L168.32,388.43 L168.54,388.43 L168.76,388.43 L168.98,388.42 L169.20,388.42 L169.42,388.41 L169.64,388.41 L169.86,388.41 L170.08,388.40 L170.30,388.40 L170.52,388.40 L170.74,388.39 L170.96,388.39 L171.18,388.38 L171.40,388.38 L171.62,388.38 L171.84,388.37 L172.06,388.37 L172.28,388.36 L172.50,388.36 L172.72,388.36 L172.94,388.35 L173.16,388.35 L173.38,388.34 L173.60,388.34 L173.82,388.34 L174.04,388.33 L174.26,388.33 L174.48,388.32 L174.70,388.32 L174.92,388.31 L175.14,388.31 L175.36,388.31 L175.58,388.30 L175.79,388.30 L176.01,388.29 L176.23,388.29 L176.45,388.29 L176.67,388.28 L176.89,388.28 L177.11,388.27 L177.33,388.27 L177.55,388.26 L177.77,388.26 L177.99,388.26 L178.21,388.25 L178.43,388.25 L178.65,388.24 L178.87,388.24 L179.09,388.23 L179.31,388.23 L179.53,388.23 L179.75,388.22 L179.97,388.22 L180.19,388.21 L180.41,388.21 L180.63,388.20 L180.85,388.20 L181.07,388.19 L181.29,388.19 L181.51,388.19 L181.73,388.18 L181.95,388.18 L182.17,388.17 L182.39,388.17 L182.61,388.16 L182.83,388.16 L183.05,388.16 L183.27,388.15 L183.49,388.15 L183.71,388.14 L183.93,388.14 L184.15,388.13 L184.37,388.13 L184.59,388.12 L184.81,388.12 L185.03,388.11 L185.24,388.11 L185.46,388.11 L185.68,388.10 L185.90,388.10 L186.12,388.09 L186.34,388.09 L186.56,388.08 L186.78,388.08 L187.00,388.07 L187.22,388.07 L187.44,388.07 L187.66,388.06 L187.88,388.06 L188.10,388.05 L188.32,388.05 L188.54,388.04 L188.76,388.04 L188.98,388.03 L189.20,388.03 L189.42,388.03 L189.64,388.02 L189.86,388.02 L190.08,388.01 L190.30,388.01 L190.52,388.00 L190.74,388.00 L190.96,387.99 L191.18,387.99 L191.40,387.98 L191.62,387.98 L191.84,387.97 L192.06,387.96 L192.28,387.96 L192.50,387.95 L192.72,387.95 L192.94,387.94 L193.16,387.93 L193.38,387.93 L193.60,387.92 L193.82,387.91 L194.04,387.91 L194.26,387.90 L194.47,387.89 L194.69,387.88 L194.91,387.88 L195.13,387.87 L195.35,387.86 L195.57,387.85 L195.79,387.84 L196.01,387.84 L196.23,387.83 L196.45,387.82 L196.67,387.81 L196.89,387.80 L197.11,387.79 L197.33,387.78 L197.55,387.77 L197.77,387.77 L197.99,387.76 L198.21,387.75 L198.43,387.74 L198.65,387.73 L198.87,387.72 L199.09,387.71 L199.31,387.70 L199.53,387.69 L199.75,387.68 L199.97,387.67 L200.19,387.66 L200.41,387.65 L200.63,387.64 L200.85,387.63 L201.07,387.62 L201.29,387.61 L201.51,387.60 L201.73,387.59 L201.95,387.57 L202.17,387.56 L202.39,387.55 L202.61,387.54 L202.83,387.53 L203.05,387.52 L203.27,387.51 L203.49,387.50 L203.71,387.49 L203.92,387.48 L204.14,387.46 L204.36,387.45 L204.58,387.44 L204.80,387.43 L205.02,387.42 L205.24,387.41 L205.46,387.40 L205.68,387.38 L205.90,387.37 L206.12,387.36 L206.34,387.35 L206.56,387.34 L206.78,387.33 L207.00,387.31 L207.22,387.30 L207.44,387.29 L207.66,387.28 L207.88,387.27 L208.10,387.25 L208.32,387.24 L208.54,387.23 L208.76,387.22 L208.98,387.21 L209.20,387.20 L209.42,387.18 L209.64,387.17 L209.86,387.16 L210.08,387.15 L210.30,387.14 L210.52,387.12 L210.74,387.11 L210.96,387.10 L211.18,387.09 L211.40,387.08 L211.62,387.07 L211.84,387.05 L212.06,387.04 L212.28,387.03 L212.50,387.02 L212.72,387.01 L212.94,387.00 L213.16,386.98 L213.37,386.97 L213.59,386.96 L213.81,386.95 L214.03,386.94 L214.25,386.93 L214.47,386.92 L214.69,386.90 L214.91,386.89 L215.13,386.88 L215.35,386.87 L215.57,386.86 L215.79,386.84 L216.01,386.83 L216.23,386.81 L216.45,386.79 L216.67,386.77 L216.89,386.76 L217.11,386.74 L217.33,386.72 L217.55,386.69 L217.77,386.67 L217.99,386.65 L218.21,386.63 L218.43,386.60 L218.65,386.58 L218.87,386.55 L219.09,386.52 L219.31,386.50 L219.53,386.47 L219.75,386.44 L219.97,386.41 L220.19,386.38 L220.41,386.35 L220.63,386.32 L220.85,386.29 L221.07,386.25 L221.29,386.22 L221.51,386.19 L221.73,386.15 L221.95,386.12 L222.17,386.09 L222.39,386.05 L222.61,386.01 L222.82,385.98 L223.04,385.94 L223.26,385.91 L223.48,385.87 L223.70,385.83 L223.92,385.79 L224.14,385.75 L224.36,385.72 L224.58,385.68 L224.80,385.64 L225.02,385.60 L225.24,385.55 L225.46,385.50 L225.68,385.45 L225.90,385.38 L226.12,385.31 L226.34,385.23 L226.56,385.14 L226.78,385.05 L227.00,384.94 L227.22,384.83 L227.44,384.71 L227.66,384.58 L227.88,384.44 L228.10,384.29 L228.32,384.14 L228.54,383.97 L228.76,383.79 L228.98,383.60 L229.20,383.41 L229.42,383.20 L229.64,382.98 L229.86,382.76 L230.08,382.53 L230.30,382.30 L230.52,382.07 L230.74,381.84 L230.96,381.60 L231.18,381.37 L231.40,381.15 L231.62,380.92 L231.84,380.71 L232.06,380.50 L232.27,380.30 L232.49,380.10 L232.71,379.91 L232.93,379.72 L233.15,379.53 L233.37,379.35 L233.59,379.17 L233.81,379.01 L234.03,378.86 L234.25,378.76 L234.47,378.70 L234.69,378.69 L234.91,378.73 L235.13,378.80 L235.35,378.90 L235.57,379.00 L235.79,379.10 L236.01,379.23 L236.23,379.37 L236.45,379.52 L236.67,379.66 L236.89,379.79 L237.11,379.90 L237.33,379.98 L237.55,380.03 L237.77,380.03 L237.99,380.01 L238.21,379.95 L238.43,379.88 L238.65,379.79 L238.87,379.69 L239.09,379.57 L239.31,379.43 L239.53,379.28 L239.75,379.12 L239.97,378.96 L240.19,378.78 L240.41,378.59 L240.63,378.38 L240.85,378.16 L241.07,377.92 L241.29,377.66 L241.51,377.39 L241.72,377.10 L241.94,376.80 L242.16,376.47 L242.38,376.14 L242.60,375.78 L242.82,375.35 L243.04,374.84 L243.26,374.27 L243.48,373.63 L243.70,372.93 L243.92,372.18 L244.14,371.39 L244.36,370.55 L244.58,369.68 L244.80,368.78 L245.02,367.84 L245.24,366.88 L245.46,365.87 L245.68,364.82 L245.90,363.71 L246.12,362.56 L246.34,361.34 L246.56,360.07 L246.78,358.75 L247.00,357.40 L247.22,356.04 L247.44,354.69 L247.66,353.37 L247.88,352.09 L248.10,350.86 L248.32,349.69 L248.54,348.65 L248.76,348.08 L248.98,347.99 L249.20,348.19 L249.42,348.58 L249.64,349.12 L249.86,349.75 L250.08,350.57 L250.30,351.47 L250.52,352.42 L250.74,353.36 L250.95,354.24 L251.17,355.03 L251.39,355.73 L251.61,356.36 L251.83,356.89 L252.05,357.22 L252.27,357.31 L252.49,357.19 L252.71,356.94 L252.93,356.60 L253.15,356.24 L253.37,355.79 L253.59,355.19 L253.81,354.35 L254.03,353.29 L254.25,352.07 L254.47,350.74 L254.69,349.34 L254.91,347.91 L255.13,346.49 L255.35,345.06 L255.57,343.56 L255.79,341.99 L256.01,340.33 L256.23,338.56 L256.45,336.39 L256.67,333.65 L256.89,330.39 L257.11,326.66 L257.33,322.52 L257.55,318.07 L257.77,313.44 L257.99,308.72 L258.21,304.03 L258.43,299.47 L258.65,295.14 L258.87,291.04 L259.09,287.08 L259.31,283.21 L259.53,279.40 L259.75,276.87 L259.97,277.83 L260.19,281.30 L260.40,285.28 L260.62,289.38 L260.84,293.38 L261.06,297.09 L261.28,300.65 L261.50,304.17 L261.72,307.68 L261.94,311.19 L262.16,314.72 L262.38,318.30 L262.60,322.00 L262.82,325.82 L263.04,329.71 L263.26,333.63 L263.48,337.56 L263.70,341.44 L263.92,345.25 L264.14,348.95 L264.36,352.50 L264.58,355.79 L264.80,358.69 L265.02,361.21 L265.24,363.41 L265.46,365.30 L265.68,366.93 L265.90,368.33 L266.12,369.54 L266.34,370.58 L266.56,371.51 L266.78,372.34 L267.00,373.13 L267.22,373.91 L267.44,374.68 L267.66,375.44 L267.88,376.18 L268.10,376.90 L268.32,377.59 L268.54,378.25 L268.76,378.88 L268.98,379.46 L269.20,380.01 L269.42,380.51 L269.64,380.96 L269.85,381.35 L270.07,381.68 L270.29,381.96 L270.51,382.17 L270.73,382.38 L270.95,382.59 L271.17,382.81 L271.39,383.02 L271.61,383.23 L271.83,383.44 L272.05,383.65 L272.27,383.85 L272.49,384.05 L272.71,384.24 L272.93,384.43 L273.15,384.60 L273.37,384.78 L273.59,384.94 L273.81,385.09 L274.03,385.23 L274.25,385.36 L274.47,385.48 L274.69,385.58 L274.91,385.67 L275.13,385.74 L275.35,385.80 L275.57,385.86 L275.79,385.93 L276.01,385.99 L276.23,386.05 L276.45,386.11 L276.67,386.18 L276.89,386.24 L277.11,386.30 L277.33,386.37 L277.55,386.43 L277.77,386.49 L277.99,386.56 L278.21,386.62 L278.43,386.68 L278.65,386.74 L278.87,386.80 L279.09,386.86 L279.30,386.92 L279.52,386.98 L279.74,387.04 L279.96,387.10 L280.18,387.16 L280.40,387.21 L280.62,387.27 L280.84,387.32 L281.06,387.37 L281.28,387.42 L281.50,387.47 L281.72,387.52 L281.94,387.57 L282.16,387.61 L282.38,387.66 L282.60,387.70 L282.82,387.74 L283.04,387.78 L283.26,387.81 L283.48,387.85 L283.70,387.88 L283.92,387.91 L284.14,387.94 L284.36,387.96 L284.58,387.98 L284.80,388.01 L285.02,388.02 L285.24,388.04 L285.46,388.06 L285.68,388.08 L285.90,388.10 L286.12,388.11 L286.34,388.13 L286.56,388.15 L286.78,388.17 L287.00,388.19 L287.22,388.21 L287.44,388.22 L287.66,388.24 L287.88,388.26 L288.10,388.28 L288.32,388.30 L288.54,388.31 L288.75,388.33 L288.97,388.35 L289.19,388.37 L289.41,388.38 L289.63,388.40 L289.85,388.41 L290.07,388.43 L290.29,388.45 L290.51,388.46 L290.73,388.48 L290.95,388.49 L291.17,388.50 L291.39,388.52 L291.61,388.53 L291.83,388.54 L292.05,388.56 L292.27,388.57 L292.49,388.58 L292.71,388.59 L292.93,388.60 L293.15,388.61 L293.37,388.62 L293.59,388.63 L293.81,388.64 L294.03,388.64 L294.25,388.65 L294.47,388.66 L294.69,388.66 L294.91,388.67 L295.13,388.67 L295.35,388.68 L295.57,388.68 L295.79,388.69 L296.01,388.70 L296.23,388.70 L296.45,388.71 L296.67,388.71 L296.89,388.72 L297.11,388.72 L297.33,388.73 L297.55,388.73 L297.77,388.74 L297.98,388.75 L298.20,388.75 L298.42,388.76 L298.64,388.76 L298.86,388.77 L299.08,388.77 L299.30,388.78 L299.52,388.78 L299.74,388.79 L299.96,388.79 L300.18,388.80 L300.40,388.80 L300.62,388.81 L300.84,388.81 L301.06,388.82 L301.28,388.83 L301.50,388.83 L301.72,388.84 L301.94,388.84 L302.16,388.85 L302.38,388.85 L302.60,388.85 L302.82,388.86 L303.04,388.86 L303.26,388.87 L303.48,388.87 L303.70,388.88 L303.92,388.88 L304.14,388.89 L304.36,388.89 L304.58,388.90 L304.80,388.90 L305.02,388.90 L305.24,388.91 L305.46,388.91 L305.68,388.92 L305.90,388.92 L306.12,388.93 L306.34,388.93 L306.56,388.93 L306.78,388.94 L307.00,388.94 L307.22,388.94 L307.43,388.95 L307.65,388.95 L307.87,388.96 L308.09,388.96 L308.31,388.96 L308.53,388.97 L308.75,388.97 L308.97,388.97 L309.19,388.97 L309.41,388.98 L309.63,388.98 L309.85,388.98 L310.07,388.99 L310.29,388.99 L310.51,388.99 L310.73,388.99 L310.95,389.00 L311.17,389.00 L311.39,389.00 L311.61,389.00 L311.83,389.00 L312.05,389.01 L312.27,389.01 L312.49,389.01 L312.71,389.01 L312.93,389.01 L313.15,389.01 L313.37,389.01 L313.59,389.02 L313.81,389.02 L314.03,389.02 L314.25,389.02 L314.47,389.02 L314.69,389.02 L314.91,389.02 L315.13,389.02 L315.35,389.02 L315.57,389.02 L315.79,389.02 L316.01,389.02 L316.23,389.02 L316.45,389.02 L316.67,389.02 L316.88,389.02 L317.10,389.02 L317.32,389.02 L317.54,389.02 L317.76,389.02 L317.98,389.02 L318.20,389.01 L318.42,389.01 L318.64,389.01 L318.86,389.01 L319.08,389.01 L319.30,389.01 L319.52,389.00 L319.74,389.00 L319.96,389.00 L320.18,389.00 L320.40,388.99 L320.62,388.99 L320.84,388.99 L321.06,388.98 L321.28,388.98 L321.50,388.98" stroke="#ff0000" stroke-width="1.85" fill="none" stroke-linejoin="round"/>
<rect x="53.3" y="0.9" width="273.90" height="168.70" fill="none" stroke="#777777" stroke-width="1"/>
<path d="M68.54,169.6 v-1.8 M68.54,0.9 v1.8 M79.08,169.6 v-1.8 M79.08,0.9 v1.8 M89.62,169.6 v-1.8 M89.62,0.9 v1.8 M100.16,169.6 v-1.8 M100.16,0.9 v1.8 M121.24,169.6 v-1.8 M121.24,0.9 v1.8 M131.78,169.6 v-1.8 M131.78,0.9 v1.8 M142.32,169.6 v-1.8 M142.32,0.9 v1.8 M152.86,169.6 v-1.8 M152.86,0.9 v1.8 M173.94,169.6 v-1.8 M173.94,0.9 v1.8 M184.48,169.6 v-1.8 M184.48,0.9 v1.8 M195.02,169.6 v-1.8 M195.02,0.9 v1.8 M205.56,169.6 v-1.8 M205.56,0.9 v1.8 M226.64,169.6 v-1.8 M226.64,0.9 v1.8 M237.18,169.6 v-1.8 M237.18,0.9 v1.8 M247.72,169.6 v-1.8 M247.72,0.9 v1.8 M258.26,169.6 v-1.8 M258.26,0.9 v1.8 M279.34,169.6 v-1.8 M279.34,0.9 v1.8 M289.88,169.6 v-1.8 M289.88,0.9 v1.8 M300.42,169.6 v-1.8 M300.42,0.9 v1.8 M310.96,169.6 v-1.8 M310.96,0.9 v1.8 M58.00,169.6 v-3.0 M58.00,0.9 v3.0 M110.70,169.6 v-3.0 M110.70,0.9 v3.0 M163.40,169.6 v-3.0 M163.40,0.9 v3.0 M216.10,169.6 v-3.0 M216.10,0.9 v3.0 M268.80,169.6 v-3.0 M268.80,0.9 v3.0 M321.50,169.6 v-3.0 M321.50,0.9 v3.0 M53.3,156.25 h1.8 M327.2,156.25 h-1.8 M53.3,145.90 h1.8 M327.2,145.90 h-1.8 M53.3,135.55 h1.8 M327.2,135.55 h-1.8 M53.3,125.20 h1.8 M327.2,125.20 h-1.8 M53.3,104.50 h1.8 M327.2,104.50 h-1.8 M53.3,94.15 h1.8 M327.2,94.15 h-1.8 M53.3,83.80 h1.8 M327.2,83.80 h-1.8 M53.3,73.45 h1.8 M327.2,73.45 h-1.8 M53.3,52.75 h1.8 M327.2,52.75 h-1.8 M53.3,42.40 h1.8 M327.2,42.40 h-1.8 M53.3,32.05 h1.8 M327.2,32.05 h-1.8 M53.3,21.70 h1.8 M327.2,21.70 h-1.8 M53.3,1.00 h1.8 M327.2,1.00 h-1.8 M53.3,166.60 h3.0 M327.2,166.60 h-3.0 M53.3,114.85 h3.0 M327.2,114.85 h-3.0 M53.3,63.10 h3.0 M327.2,63.10 h-3.0 M53.3,11.35 h3.0 M327.2,11.35 h-3.0" stroke="#777777" stroke-width="0.9" fill="none"/>
<rect x="52.5" y="222.8" width="274.50" height="169.50" fill="none" stroke="#4a4a4a" stroke-width="1"/>
<path d="M68.54,392.3 v-1.8 M68.54,222.8 v1.8 M79.08,392.3 v-1.8 M79.08,222.8 v1.8 M89.62,392.3 v-1.8 M89.62,222.8 v1.8 M100.16,392.3 v-1.8 M100.16,222.8 v1.8 M121.24,392.3 v-1.8 M121.24,222.8 v1.8 M131.78,392.3 v-1.8 M131.78,222.8 v1.8 M142.32,392.3 v-1.8 M142.32,222.8 v1.8 M152.86,392.3 v-1.8 M152.86,222.8 v1.8 M173.94,392.3 v-1.8 M173.94,222.8 v1.8 M184.48,392.3 v-1.8 M184.48,222.8 v1.8 M195.02,392.3 v-1.8 M195.02,222.8 v1.8 M205.56,392.3 v-1.8 M205.56,222.8 v1.8 M226.64,392.3 v-1.8 M226.64,222.8 v1.8 M237.18,392.3 v-1.8 M237.18,222.8 v1.8 M247.72,392.3 v-1.8 M247.72,222.8 v1.8 M258.26,392.3 v-1.8 M258.26,222.8 v1.8 M279.34,392.3 v-1.8 M279.34,222.8 v1.8 M289.88,392.3 v-1.8 M289.88,222.8 v1.8 M300.42,392.3 v-1.8 M300.42,222.8 v1.8 M310.96,392.3 v-1.8 M310.96,222.8 v1.8 M58.00,392.3 v-3.0 M58.00,222.8 v3.0 M110.70,392.3 v-3.0 M110.70,222.8 v3.0 M163.40,392.3 v-3.0 M163.40,222.8 v3.0 M216.10,392.3 v-3.0 M216.10,222.8 v3.0 M268.80,392.3 v-3.0 M268.80,222.8 v3.0 M321.50,392.3 v-3.0 M321.50,222.8 v3.0 M52.5,381.26 h1.8 M327.0,381.26 h-1.8 M52.5,373.22 h1.8 M327.0,373.22 h-1.8 M52.5,365.18 h1.8 M327.0,365.18 h-1.8 M52.5,349.10 h1.8 M327.0,349.10 h-1.8 M52.5,341.06 h1.8 M327.0,341.06 h-1.8 M52.5,333.02 h1.8 M327.0,333.02 h-1.8 M52.5,316.94 h1.8 M327.0,316.94 h-1.8 M52.5,308.90 h1.8 M327.0,308.90 h-1.8 M52.5,300.86 h1.8 M327.0,300.86 h-1.8 M52.5,284.78 h1.8 M327.0,284.78 h-1.8 M52.5,276.74 h1.8 M327.0,276.74 h-1.8 M52.5,268.70 h1.8 M327.0,268.70 h-1.8 M52.5,252.62 h1.8 M327.0,252.62 h-1.8 M52.5,244.58 h1.8 M327.0,244.58 h-1.8 M52.5,236.54 h1.8 M327.0,236.54 h-1.8 M52.5,389.30 h3.0 M327.0,389.30 h-3.0 M52.5,357.14 h3.0 M327.0,357.14 h-3.0 M52.5,324.98 h3.0 M327.0,324.98 h-3.0 M52.5,292.82 h3.0 M327.0,292.82 h-3.0 M52.5,260.66 h3.0 M327.0,260.66 h-3.0 M52.5,228.50 h3.0 M327.0,228.50 h-3.0" stroke="#4a4a4a" stroke-width="0.9" fill="none"/>
<path d="M60.2,92.3 H95.5" stroke="#5e81b5" stroke-width="1.6" stroke-dasharray="2.3 2.2 5.1 2.2" fill="none"/>
<path d="M60.2,113.0 H96.3" stroke="#ff0000" stroke-width="1.7" fill="none"/>
<path d="M60.2,133.9 H96.3" stroke="#ff00ff" stroke-width="1.7" fill="none"/>
<path d="M60.2,155.1 H96.3" stroke="#808080" stroke-width="1.7" fill="none"/>
<path d="M235.4,1.2 V392 M248.4,1.2 V392" stroke="#1e1e1e" stroke-width="1" fill="none"/>
<path d="M260.1,1.2 V392" stroke="#666666" stroke-width="1.3" fill="none"/>
<text x="58.2" y="187.9" text-anchor="middle" font-family="Liberation Sans, sans-serif" font-size="16" fill="#000" >0.0</text>
<text x="58.0" y="410.7" text-anchor="middle" font-family="Liberation Sans, sans-serif" font-size="16" fill="#000" >0.0</text>
<text x="110.9" y="187.9" text-anchor="middle" font-family="Liberation Sans, sans-serif" font-size="16" fill="#000" >0.1</text>
<text x="110.7" y="410.7" text-anchor="middle" font-family="Liberation Sans, sans-serif" font-size="16" fill="#000" >0.1</text>
<text x="163.6" y="187.9" text-anchor="middle" font-family="Liberation Sans, sans-serif" font-size="16" fill="#000" >0.2</text>
<text x="163.4" y="410.7" text-anchor="middle" font-family="Liberation Sans, sans-serif" font-size="16" fill="#000" >0.2</text>
<text x="216.3" y="187.9" text-anchor="middle" font-family="Liberation Sans, sans-serif" font-size="16" fill="#000" >0.3</text>
<text x="216.1" y="410.7" text-anchor="middle" font-family="Liberation Sans, sans-serif" font-size="16" fill="#000" >0.3</text>
<text x="269.0" y="187.9" text-anchor="middle" font-family="Liberation Sans, sans-serif" font-size="16" fill="#000" >0.4</text>
<text x="268.8" y="410.7" text-anchor="middle" font-family="Liberation Sans, sans-serif" font-size="16" fill="#000" >0.4</text>
<text x="321.7" y="187.9" text-anchor="middle" font-family="Liberation Sans, sans-serif" font-size="16" fill="#000" >0.5</text>
<text x="321.5" y="410.7" text-anchor="middle" font-family="Liberation Sans, sans-serif" font-size="16" fill="#000" >0.5</text>
<text x="50.2" y="172.4" text-anchor="end" font-family="Liberation Sans, sans-serif" font-size="16" fill="#000" >0</text>
<text x="50.2" y="120.6" text-anchor="end" font-family="Liberation Sans, sans-serif" font-size="16" fill="#000" >5</text>
<text x="50.2" y="68.9" text-anchor="end" font-family="Liberation Sans, sans-serif" font-size="16" fill="#000" >10</text>
<text x="50.2" y="17.1" text-anchor="end" font-family="Liberation Sans, sans-serif" font-size="16" fill="#000" >15</text>
<text x="49.4" y="395.6" text-anchor="end" font-family="Liberation Sans, sans-serif" font-size="16" fill="#000" >0</text>
<text x="49.4" y="363.4" text-anchor="end" font-family="Liberation Sans, sans-serif" font-size="16" fill="#000" >20</text>
<text x="49.4" y="331.3" text-anchor="end" font-family="Liberation Sans, sans-serif" font-size="16" fill="#000" >40</text>
<text x="49.4" y="299.1" text-anchor="end" font-family="Liberation Sans, sans-serif" font-size="16" fill="#000" >60</text>
<text x="49.4" y="267.0" text-anchor="end" font-family="Liberation Sans, sans-serif" font-size="16" fill="#000" >80</text>
<text x="49.4" y="234.8" text-anchor="end" font-family="Liberation Sans, sans-serif" font-size="16" fill="#000" >100</text>
<text transform="translate(22.3,84.9) rotate(-90)" text-anchor="middle" letter-spacing="0.15" font-family="Liberation Sans, sans-serif" font-size="16" fill="#000">Frequency(GHz)</text>
<text transform="translate(12.5,307.3) rotate(-90)" text-anchor="middle" letter-spacing="0.25" font-family="Liberation Sans, sans-serif" font-size="16" fill="#000">Power(aW)</text>
<text x="101.5" y="95.3" font-family="Liberation Sans, sans-serif" font-size="16" fill="#000"><tspan font-style="italic">f</tspan><tspan font-size="11.4" dy="3.1" font-style="italic">r</tspan></text>
<text x="101.5" y="116.0" font-family="Liberation Sans, sans-serif" font-size="16" fill="#000"><tspan font-style="italic">f</tspan><tspan font-size="11.4" dy="3.1">23</tspan></text>
<text x="101.5" y="136.9" font-family="Liberation Sans, sans-serif" font-size="16" fill="#000"><tspan font-style="italic">f</tspan><tspan font-size="11.4" dy="3.1">12</tspan></text>
<text x="101.5" y="158.1" font-family="Liberation Sans, sans-serif" font-size="16" fill="#000"><tspan font-style="italic">f</tspan><tspan font-size="11.4" dy="3.1">01</tspan></text>
<text transform="translate(173.4,434.4) scale(1.26,1.14)" font-family="Liberation Sans, sans-serif" font-size="16" fill="#000" font-style="italic">&#981;</text>
<text transform="translate(189.3,434.4) scale(1.26,1.14)" font-family="Liberation Sans, sans-serif" font-size="16" fill="#000" font-style="italic">&#981;</text>
<path d="M183.9,433.9 L186.6,422.8" stroke="#000" stroke-width="1.5" fill="none"/>
<text x="199.9" y="436.8" font-family="Liberation Sans, sans-serif" font-size="11.5" fill="#000">0</text>
<text transform="translate(289.8,38.6) scale(1.06,1)" font-family="Liberation Serif, serif" font-weight="bold" font-size="19.5" fill="#000"><tspan font-size="22.4" dy="0">(</tspan><tspan dx="0" dy="0">a</tspan><tspan font-size="22.4" dx="0" dy="0">)</tspan></text>
<text transform="translate(289.8,261) scale(1.06,1)" font-family="Liberation Serif, serif" font-weight="bold" font-size="19.5" fill="#000"><tspan font-size="22.4" dy="0.6">(</tspan><tspan dx="0.4" dy="-0.6">b</tspan><tspan font-size="22.4" dx="0.4" dy="0.6">)</tspan></text>
</svg>
</body></html>
